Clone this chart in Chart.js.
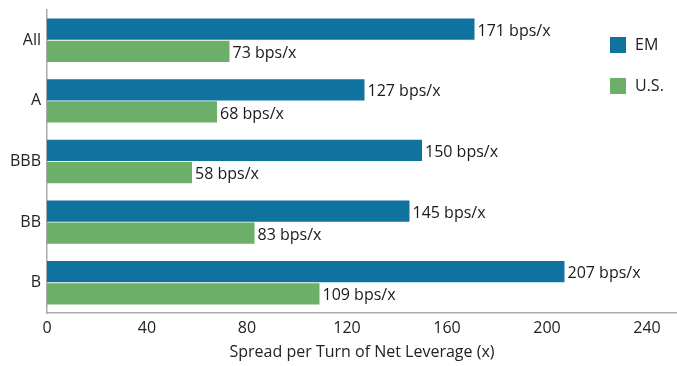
<!DOCTYPE html>
<html>
<head>
<meta charset="utf-8">
<script src="https://cdn.jsdelivr.net/npm/chart.js@4.4.1/dist/chart.umd.min.js"></script>
<style>
  html, body { margin: 0; padding: 0; background: #fff; }
  #wrap { width: 677px; height: 366px; }
</style>
</head>
<body>
<div id="wrap"><canvas id="chart" width="677" height="366"></canvas></div>
<script>
const categories = ["All", "A", "BBB", "BB", "B"];
const emValues = [171, 127, 150, 145, 207];
const usValues = [73, 68, 58, 83, 109];
const seriesNames = ["EM", "U.S."];
const seriesColors = ["#10739f", "#6baf68"];
const xMax = 252;
const xStep = 40;
const unitLabel = " bps/x";
const axisTitle = "Spread per Turn of Net Leverage (x)";

Chart.defaults.font.family = '"Open Sans", sans-serif';
Chart.defaults.font.size = 16;
Chart.defaults.color = "#222";

// value text at the end of each bar
const barLabels = {
  id: "barLabels",
  afterDatasetsDraw(chart) {
    const ctx = chart.ctx;
    ctx.save();
    ctx.font = '16px "Open Sans", sans-serif';
    ctx.fillStyle = "#1a1a1a";
    ctx.textBaseline = "middle";
    chart.data.datasets.forEach((ds, i) => {
      chart.getDatasetMeta(i).data.forEach((bar, j) => {
        ctx.fillText(ds.data[j] + unitLabel, bar.x + 3, bar.y + 2);
      });
    });
    ctx.restore();
  },
};

// legend drawn inside the plot, top right
const insideLegend = {
  id: "insideLegend",
  afterDraw(chart) {
    const ctx = chart.ctx;
    const area = chart.chartArea;
    ctx.save();
    ctx.font = '16px "Open Sans", sans-serif';
    ctx.textBaseline = "middle";
    chart.data.datasets.forEach((ds, i) => {
      const x = area.right - 67;
      const y = area.top + 27 + i * 41;
      ctx.fillStyle = ds.backgroundColor;
      ctx.fillRect(x, y, 16, 16);
      ctx.fillStyle = "#222";
      ctx.fillText(ds.label, x + 25, y + 8);
    });
    ctx.restore();
  },
};

new Chart(document.getElementById("chart"), {
  type: "bar",
  data: {
    labels: categories,
    datasets: [
      { label: seriesNames[0], data: emValues, backgroundColor: seriesColors[0] },
      { label: seriesNames[1], data: usValues, backgroundColor: seriesColors[1] },
    ],
  },
  options: {
    indexAxis: "y",
    responsive: false,
    animation: false,
    categoryPercentage: 0.73,
    barPercentage: 0.96,
    layout: { padding: { top: 10, right: 0, left: 0, bottom: 0 } },
    plugins: {
      legend: { display: false },
      tooltip: { enabled: false },
    },
    scales: {
      x: {
        min: 0,
        max: xMax,
        grid: { display: false, drawTicks: false },
        border: { color: "#aaa", width: 1.5 },
        ticks: { stepSize: xStep, includeBounds: false, padding: 6, color: "#222" },
        title: { display: true, text: axisTitle, padding: { top: 3 }, color: "#222" },
        afterFit(scale) { scale.height = 53; },
      },
      y: {
        grid: { display: false, drawTicks: false },
        border: { color: "#aaa", width: 1.5 },
        ticks: { padding: 6, color: "#222" },
        afterFit(scale) {
          scale.width = 47;
          scale.paddingTop = 0;
          scale.paddingBottom = 0;
        },
      },
    },
  },
  plugins: [barLabels, insideLegend],
});
</script>
</body>
</html>
